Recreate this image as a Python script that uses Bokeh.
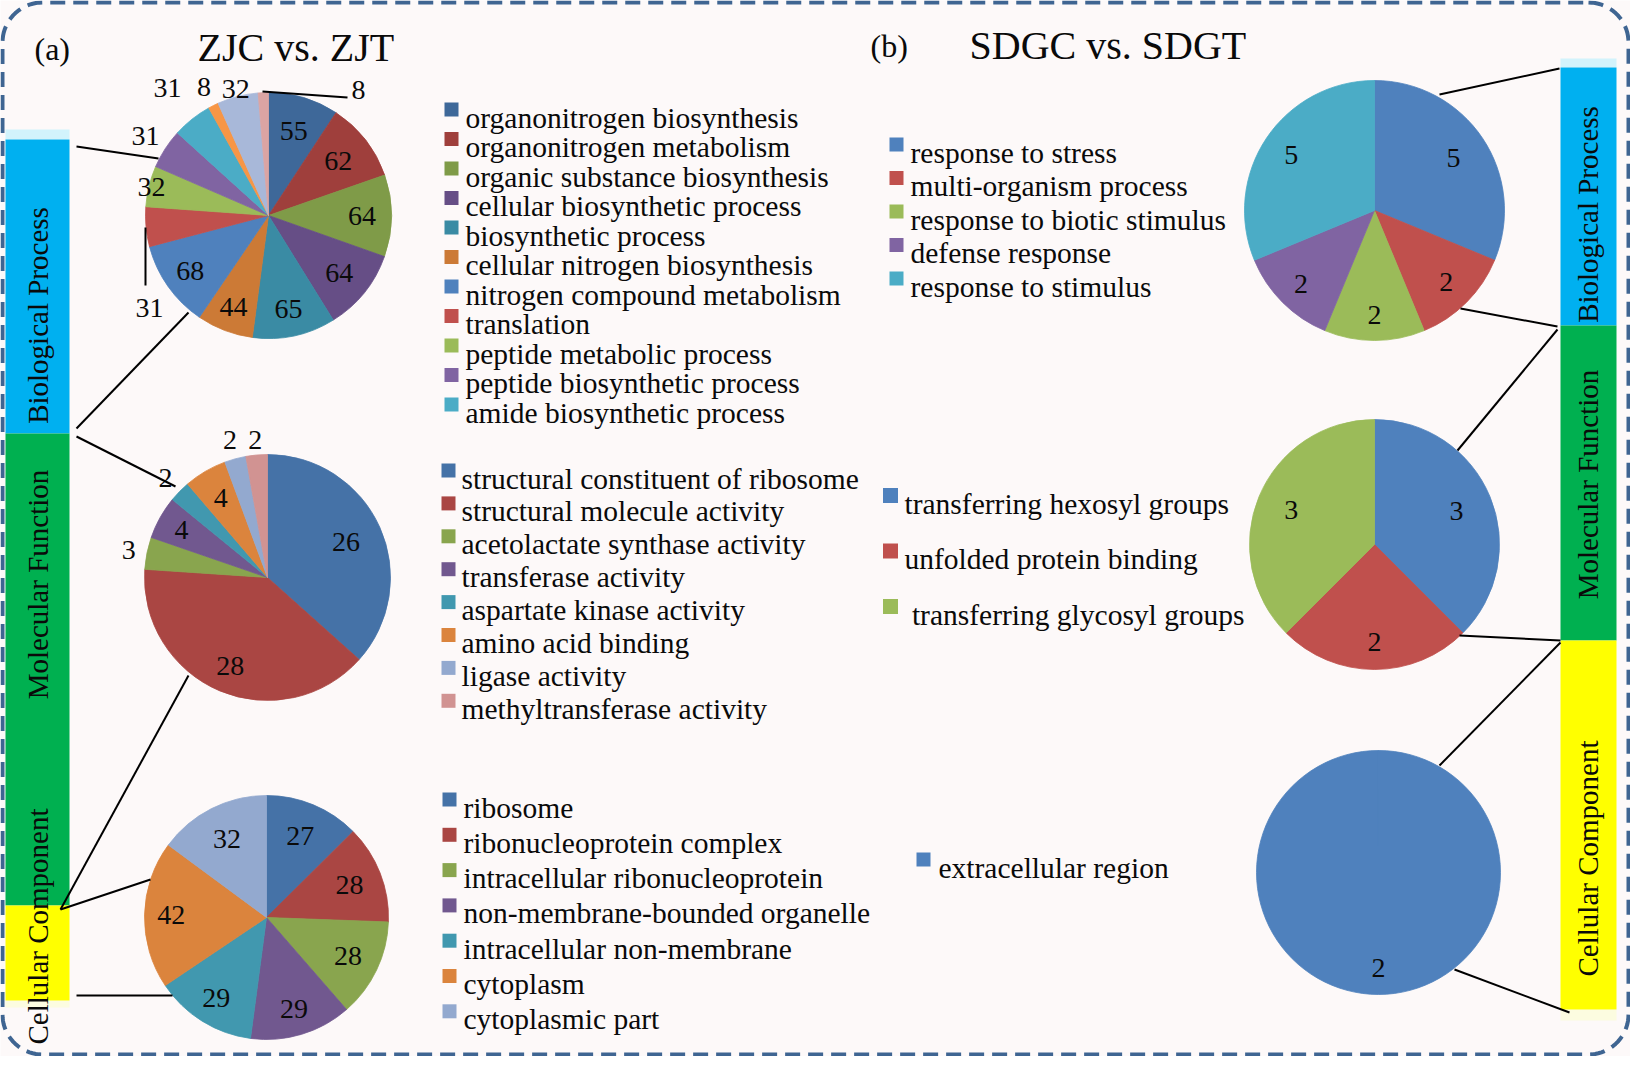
import numpy as np
from bokeh.plotting import figure
from bokeh.models import Range1d
from bokeh.core.properties import value
from bokeh.embed import file_html
from bokeh.resources import INLINE

# ---------------- data ----------------
zj_bp_labels = ["organonitrogen biosynthesis", "organonitrogen  metabolism",
                "organic substance biosynthesis", "cellular biosynthetic process",
                "biosynthetic process", "cellular nitrogen biosynthesis",
                "nitrogen compound metabolism", "translation",
                "peptide metabolic process", "peptide biosynthetic process",
                "amide biosynthetic process"]
# pie has 14 slices (last three are not listed in the legend)
zj_bp_values = [55, 62, 64, 64, 65, 44, 68, 31, 32, 31, 31, 8, 32, 8]

zj_mf_labels = ["structural constituent of ribosome", "structural molecule activity",
                "acetolactate synthase activity", "transferase activity",
                "aspartate kinase activity", "amino acid binding",
                "ligase activity", "methyltransferase activity"]
zj_mf_values = [26, 28, 3, 4, 2, 4, 2, 2]

zj_cc_labels = ["ribosome", "ribonucleoprotein complex", "intracellular ribonucleoprotein",
                "non-membrane-bounded organelle", "intracellular non-membrane",
                "cytoplasm", "cytoplasmic part"]
zj_cc_values = [27, 28, 28, 29, 29, 42, 32]

sd_bp_labels = ["response to stress", "multi-organism process",
                "response to biotic stimulus", "defense response", "response to stimulus"]
sd_bp_values = [5, 2, 2, 2, 5]

sd_mf_labels = ["transferring hexosyl groups", "unfolded protein binding",
                "\u00a0transferring glycosyl groups"]
sd_mf_values = [3, 2, 3]

sd_cc_labels = ["extracellular region"]
sd_cc_values = [2]

go_categories = ["Biological Process", "Molecular Function", "Cellular Component"]
panel_titles = ["(a)", "ZJC vs. ZJT", "(b)", "SDGC vs. SDGT"]

# ---------------- styles ----------------
zj_bp_colors = ["#3e6899", "#9f3f3c", "#7f9b48", "#664e86", "#3a8ba4", "#cc7a36", "#4f81bd",
                "#c0504d", "#9bbb59", "#8064a2", "#4bacc6", "#f79646", "#a8b8d9", "#dba4a3"]
hc_colors = ["#4572a7", "#aa4643", "#89a54e", "#71588f", "#4198af", "#db843d", "#93a9cf", "#d19392"]
office_colors = ["#4f81bd", "#c0504d", "#9bbb59", "#8064a2", "#4bacc6"]
cat_colors = ["#00b0f0", "#00b050", "#ffff00"]
FONT = value("Liberation Serif")
TXT = "#0a0a0a"
H = 1072


def Y(y):
    return H - y


p = figure(width=1630, height=1056, x_range=Range1d(8, 1638), y_range=Range1d(8, 1064),
           output_backend="svg", toolbar_location=None, x_axis_type=None, y_axis_type=None,
           min_border=0, min_border_left=0, min_border_right=0, min_border_top=0,
           min_border_bottom=0)
p.grid.visible = False
p.outline_line_color = None
p.background_fill_color = "#fdf9f9"
p.border_fill_color = "#fdf9f9"

# ---------------- frame ----------------
def rounded_rect(x0, y0, x1, y1, rad):
    xs, ys = [], []
    corners = [(x1 - rad, y0 + rad, -90, 0), (x1 - rad, y1 - rad, 0, 90),
               (x0 + rad, y1 - rad, 90, 180), (x0 + rad, y0 + rad, 180, 270)]
    for cx, cy, a0, a1 in corners:
        t = np.radians(np.linspace(a0, a1, 20))
        xs.extend(cx + rad * np.cos(t))
        ys.extend(cy + rad * np.sin(t))
    xs.append(xs[0]); ys.append(ys[0])
    return np.array(xs), np.array(ys)


fx, fy = rounded_rect(10, 10, 1636, 1062, 40)
p.line(fx, Y(fy), line_color="#3f6592", line_width=4, line_dash="15 8")

# ---------------- category bars ----------------
def draw_bar(x0, x1, bounds, fade_top, fade_bottom):
    tops = bounds[:-1]
    bottoms = bounds[1:]
    p.quad(left=x0, right=x1, top=[Y(fade_top[0])], bottom=[Y(fade_top[1])],
           fill_color="#d2f3fc", line_color=None)
    p.quad(left=x0, right=x1, top=[Y(fade_bottom[0])], bottom=[Y(fade_bottom[1])],
           fill_color="#fcfce0", line_color=None)
    p.quad(left=x0, right=x1, top=[Y(t) for t in tops], bottom=[Y(b) for b in bottoms],
           fill_color=cat_colors, line_color=None)


draw_bar(13, 77, [147, 441, 913, 1008], (137, 147), (1008, 1015))
draw_bar(1568, 1624, [75, 333, 648, 1017], (66, 75), (1017, 1028))

p.text(x=[45, 45, 45], y=[Y(323), Y(592), Y(934)], text=go_categories, angle=np.pi / 2,
       text_align="center", text_baseline="middle", text_font=FONT,
       text_font_size="29px", text_color=TXT)
p.text(x=[1595, 1595, 1595], y=[Y(222), Y(492), Y(866)], text=go_categories, angle=np.pi / 2,
       text_align="center", text_baseline="middle", text_font=FONT,
       text_font_size="29px", text_color=TXT)

# ---------------- titles ----------------
p.text(x=[42, 878], y=[Y(56), Y(53)], text=[panel_titles[0], panel_titles[2]],
       text_font=FONT, text_font_size="32px", text_baseline="alphabetic",
       text_align="left", text_color=TXT)
p.text(x=[205, 977], y=[Y(55), Y(53)], text=[panel_titles[1], panel_titles[3]],
       text_font=FONT, text_font_size="40px", text_baseline="alphabetic",
       text_align="left", text_color=TXT)

# ---------------- pies ----------------
def draw_pie(cx, cy, r, values, colors, factors, overrides=None):
    v = np.asarray(values, dtype=float)
    cum = np.concatenate([[0.0], np.cumsum(v)])
    a0 = cum[:-1] / cum[-1] * 2 * np.pi   # clockwise from 12 o'clock
    a1 = cum[1:] / cum[-1] * 2 * np.pi
    start = np.pi / 2 - a1
    end = np.pi / 2 - a0
    start = np.where(a1 - a0 > 2 * np.pi - 1e-6, end - (2 * np.pi - 1e-4), start)
    cols = colors[:len(v)]
    p.wedge(x=cx, y=Y(cy), radius=r, start_angle=start, end_angle=end,
            fill_color=cols, line_color=cols, line_width=0.8)
    mid = (a0 + a1) / 2
    f = np.asarray(factors, dtype=float)
    lx = cx + f * r * np.sin(mid)
    ly = cy - f * r * np.cos(mid)
    if overrides:
        for i, (dx, dy) in overrides.items():
            lx[i] = cx + dx
            ly[i] = cy + dy
    p.text(x=lx, y=Y(ly), text=[str(int(x)) for x in v], text_align="center",
           text_baseline="middle", text_font=FONT, text_font_size="28px",
           text_color=TXT)


draw_pie(276, 223, 123, zj_bp_values, zj_bp_colors,
         [0.72, 0.72, 0.76, 0.74, 0.78, 0.8, 0.78, 1.0, 0.98, 1.19, 1.32, 1.17, 1.06, 1.0],
         overrides={7: (-119, 92), 13: (90, -126)})
draw_pie(275, 585, 123, zj_mf_values, hc_colors,
         [0.7, 0.78, 1.15, 0.8, 1.16, 0.75, 1.16, 1.12])
draw_pie(274, 925, 122, zj_cc_values, hc_colors,
         [0.72, 0.73, 0.74, 0.78, 0.78, 0.78, 0.72])
draw_pie(1382, 218, 130, sd_bp_values, office_colors, [0.73, 0.78, 0.8, 0.8, 0.77])
draw_pie(1382, 552, 125, sd_mf_values, office_colors, [0.71, 0.78, 0.72])
draw_pie(1386, 880, 122, sd_cc_values, office_colors, [0.78])

# ---------------- legends ----------------
def draw_legend(mx, tx, y0, dy, labels, colors, size=14):
    n = len(labels)
    ys = np.array([y0 + i * dy for i in range(n)])
    p.scatter(x=[mx] * n, y=Y(ys), marker="square", size=size,
              fill_color=colors[:n], line_color=None)
    p.text(x=[tx] * n, y=Y(ys + 8), text=labels, text_align="left",
           text_baseline="alphabetic", text_font=FONT, text_font_size="29.5px",
           text_color=TXT)


draw_legend(459, 473, 117, 29.5, zj_bp_labels, zj_bp_colors)
draw_legend(456, 469, 478, 32.9, zj_mf_labels, hc_colors)
draw_legend(457, 471, 807, 35.3, zj_cc_labels, hc_colors)
draw_legend(904, 918, 152, 33.5, sd_bp_labels, office_colors)
draw_legend(898, 912, 503, 55.5, sd_mf_labels, office_colors, size=15)
draw_legend(931, 946, 867, 0, sd_cc_labels, office_colors)

# ---------------- connector / leader lines ----------------
seg_x0 = [84, 84, 84, 68, 68, 84, 1447, 1468, 1465, 1467, 1447, 1462, 153, 270]
seg_y0 = [154, 436, 444, 917, 917, 1003, 102, 316, 458, 643, 773, 977, 235, 99]
seg_x1 = [166, 196, 183, 196, 158, 180, 1567, 1565, 1565, 1568, 1568, 1577, 153, 355]
seg_y1 = [166, 320, 494, 683, 887, 1003, 76, 334, 337, 648, 650, 1020, 293, 105]
p.segment(x0=seg_x0, y0=[Y(v) for v in seg_y0], x1=seg_x1, y1=[Y(v) for v in seg_y1],
          line_color="black", line_width=2)

open("out.html", "w").write(file_html(p, INLINE))
